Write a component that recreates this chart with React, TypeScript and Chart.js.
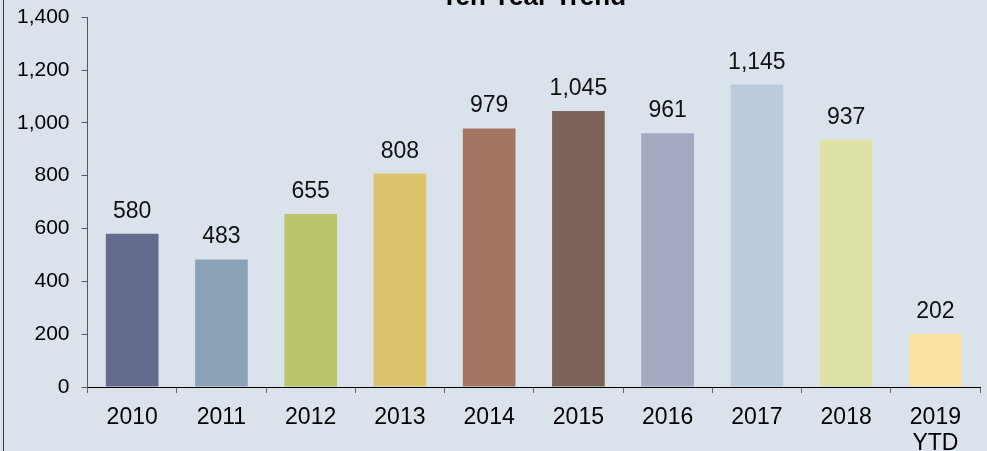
import React, { useEffect, useRef } from "react";
import { Chart, registerables } from "chart.js";

Chart.register(...registerables);

const categories: (string | string[])[] = ["2010", "2011", "2012", "2013", "2014", "2015", "2016", "2017", "2018", ["2019", "YTD"]];
const values: number[] = [580, 483, 655, 808, 979, 1045, 961, 1145, 937, 202];
const barColors: string[] = ["#636b8e", "#8ba2b6", "#bbc46d", "#ddc26c", "#a37562", "#7b6359", "#a4a8c0", "#bccadb", "#dfe2a6", "#fae1a4"];
const yTicks = { min: 0, max: 1400, step: 200 };
const titleText = "Ten Year Trend";

const FONT = "Arial, 'Liberation Sans', sans-serif";
const SHIFT = 18;
const EXTRA_BOTTOM = 18;
const W = 987;
const H = 451;

const fmt = (v: number) => v.toLocaleString("en-US");

const dataLabels = {
  id: "dataLabels",
  afterDatasetsDraw(chart: any) {
    const ctx = chart.ctx;
    const meta = chart.getDatasetMeta(0);
    const ds = chart.data.datasets[0];
    ctx.save();
    ctx.font = `23px ${FONT}`;
    ctx.fillStyle = "#111111";
    ctx.textAlign = "center";
    ctx.textBaseline = "alphabetic";
    meta.data.forEach((bar: any, i: number) => {
      ctx.fillText(fmt(ds.data[i] as number), bar.x, bar.y - 16);
    });
    ctx.restore();
  },
};

export default function App() {
  const ref = useRef<HTMLCanvasElement | null>(null);

  useEffect(() => {
    if (!ref.current) return;
    const chart = new Chart(ref.current, {
      type: "bar",
      data: {
        labels: categories as any,
        datasets: [
          {
            data: values,
            backgroundColor: barColors,
            borderWidth: 0,
            categoryPercentage: 1,
            barPercentage: 0.59,
          },
        ],
      },
      options: {
        responsive: false,
        animation: false,
        devicePixelRatio: 1,
        layout: { padding: { left: 5, right: 7, top: 0, bottom: 0 } },
        plugins: {
          legend: { display: false },
          tooltip: { enabled: false },
          title: {
            display: true,
            text: titleText,
            fullSize: false,
            color: "#000000",
            font: { family: FONT, size: 26, weight: "bold" },
            padding: { top: 0, bottom: 4 },
          },
        },
        scales: {
          x: {
            grid: { offset: true, drawOnChartArea: false, drawTicks: true, tickLength: 6, color: "#666666" },
            border: { display: true, color: "#000000", width: 1 },
            ticks: {
              color: "#000000",
              font: { family: FONT, size: 23, lineHeight: 1.13 },
              padding: 12,
              maxRotation: 0,
              autoSkip: false,
            },
          },
          y: {
            min: yTicks.min,
            max: yTicks.max,
            grid: { drawOnChartArea: false, drawTicks: true, tickLength: 6, color: "#595959" },
            border: { display: true, color: "#595959", width: 1 },
            ticks: {
              stepSize: yTicks.step,
              color: "#000000",
              font: { family: FONT, size: 21 },
              padding: 12,
              callback: (v: any) => fmt(Number(v)),
            },
          },
        },
      },
      plugins: [dataLabels],
    });
    return () => chart.destroy();
  }, []);

  return (
    <div
      style={{
        position: "fixed",
        left: 0,
        top: 0,
        width: W,
        height: H,
        overflow: "hidden",
        background: "#dae3ec",
      }}
    >
      <canvas
        ref={ref}
        width={W}
        height={H + SHIFT + EXTRA_BOTTOM}
        style={{ position: "absolute", left: 0, top: -SHIFT, width: W, height: H + SHIFT + EXTRA_BOTTOM }}
      />
      <div style={{ position: "absolute", left: 3, top: 0, width: 1, height: H, background: "#3a3a3a" }} />
    </div>
  );
}
